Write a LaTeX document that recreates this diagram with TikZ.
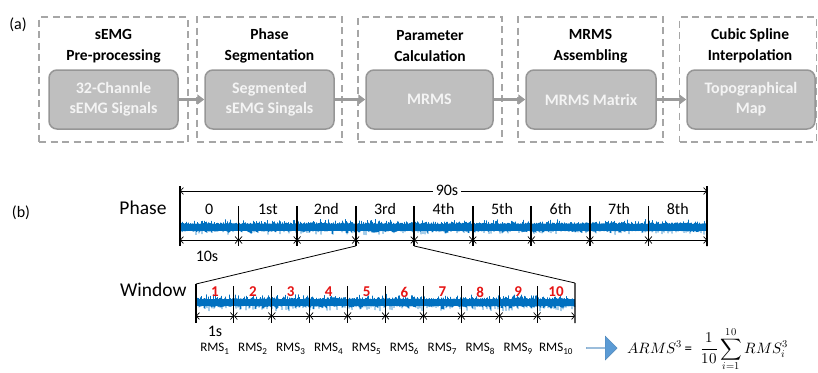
\documentclass[tikz,border=0pt]{standalone}
\usepackage{fontspec}
\usepackage{unicode-math}
\setmainfont{Carlito}
\setmathfont{Latin Modern Math}
\usetikzlibrary{arrows.meta,shapes.arrows}
\definecolor{dashgray}{RGB}{166,166,166}
\definecolor{boxfill}{RGB}{191,191,191}
\definecolor{boxedge}{RGB}{150,150,150}
\definecolor{arrgray}{RGB}{155,155,155}
\definecolor{sigblue}{RGB}{0,112,192}
\definecolor{blockblue}{RGB}{91,155,213}
\definecolor{numred}{RGB}{230,20,20}
\definecolor{boxtext}{RGB}{244,244,244}
\tikzset{
  stage/.style={draw=dashgray, dash pattern=on 7pt off 4.5pt, line width=1.3pt, inner sep=0pt},
  inbox/.style={draw=boxedge, fill=boxfill, rounded corners=8pt, line width=1.5pt, text=boxtext,
    font=\bfseries\fontsize{16}{20}\selectfont, align=center, inner sep=0pt,
    minimum height=59pt},
  ttl/.style={font=\bfseries\fontsize{15.5}{20.5}\selectfont, align=center},
  flow/.style={draw=arrgray, line width=2.6pt, -{Triangle[length=7pt,width=10pt]}},
  tick/.style={line width=1.8pt},
  dim/.style={line width=0.7pt, {Straight Barb[length=3pt,width=7pt]}-{Straight Barb[length=3pt,width=7pt]}},
  lab/.style={font=\fontsize{16}{18}\selectfont},
  big/.style={font=\fontsize{19.5}{22}\selectfont},
  rmsl/.style={font=\fontsize{13}{15}\selectfont},
  num/.style={font=\bfseries\fontsize{15}{17}\selectfont, text=numred},
  zoomline/.style={line width=0.8pt},
  sig/.style={sigblue, line width=0.5pt}
}
\begin{document}
\begin{tikzpicture}[x=1pt,y=-1pt]
\useasboundingbox (0,0) rectangle (818,372);
% ---------------- (a) ----------------
\node[lab] (la) at (18,25) {(a)};
\node[stage, minimum width=149pt, minimum height=125pt] (s1) at (113.5,79.5) {};
\node[stage, minimum width=145pt, minimum height=125pt] (s2) at (269.5,79.5) {};
\node[stage, minimum width=144pt, minimum height=125pt] (s3) at (430,79.5) {};
\node[stage, minimum width=145pt, minimum height=125pt] (s4) at (590.5,79.5) {};
\node[stage, minimum width=137pt, minimum height=125pt] (s5) at (748,79.5) {};
\node[ttl] (t1) at (113.5,46) {sEMG\\Pre-processing};
\node[ttl] (t2) at (269.5,46) {Phase\\Segmentation};
\node[ttl] (t3) at (430,46) {Parameter\\Calculation};
\node[ttl] (t4) at (590.5,46) {MRMS\\Assembling};
\node[ttl] (t5) at (750,46) {Cubic Spline\\Interpolation};
\node[inbox, minimum width=129pt] (i1) at (113.5,99.5) {32-Channle\\sEMG Signals};
\node[inbox, minimum width=129pt] (i2) at (269.5,99.5) {Segmented\\sEMG Singals};
\node[inbox, minimum width=127pt] (i3) at (429.5,99.5) {MRMS};
\node[inbox, minimum width=130pt] (i4) at (591,99.5) {MRMS Matrix};
\node[inbox, minimum width=128pt] (i5) at (751,99.5) {Topographical\\Map};
\draw[flow] (i1) -- (i2);
\draw[flow] (i2) -- (i3);
\draw[flow] (i3) -- (i4);
\draw[flow] (i4) -- (i5);
% ---------------- (b) ----------------
\node[lab] (lb) at (21,213) {(b)};
\node[big, anchor=east] (phase) at (170,208) {Phase};
\node[big, anchor=east] (window) at (190,290) {Window};
% phase signal
\pgfmathsetseed{11}
\fill[sigblue] (180,223.5) rectangle (707,230.5);
\draw[sig] plot[domain=0:1054, samples=1055]
  ({180+\x/2}, {227 + cos(180*mod(round(\x),2))*(3.2+5*rnd*rnd)});
% phase ticks
\foreach \i in {0,...,9}{
  \coordinate (pt\i) at ({180+58.5556*\i},206);
  \coordinate (pb\i) at ({180+58.5556*\i},246);
  \coordinate (pd\i) at ({180+58.5556*\i},240);
}
\coordinate (ptop0) at (180,186);
\coordinate (ptop9) at (707,186);
\draw[tick] (ptop0) -- (pb0);
\draw[tick] (ptop9) -- (pb9);
\foreach \i in {1,...,8}{ \draw[tick] (pt\i) -- (pb\i); }
\foreach \i [evaluate=\i as \j using int(\i+1)] in {0,...,8}{ \draw[dim] (pd\i) -- (pd\j); }
\foreach \t [count=\i from 0] in {0,1st,2nd,3rd,4th,5th,6th,7th,8th}{
  \node[lab] (pl\i) at ({180+58.5556*(\i+0.5)},209) {\t};
}
\coordinate (ninea) at (180,191);
\coordinate (nineb) at (707,191);
\draw[dim] (ninea) -- (nineb);
\node[lab, fill=white, inner sep=3pt] (ninety) at (447,190) {90s};
\node[lab] (ten) at (207,256) {10s};
% window signal
\fill[sigblue] (196,299) rectangle (575,306);
\draw[sig] plot[domain=0:758, samples=759]
  ({196+\x/2}, {302.5 + cos(180*mod(round(\x),2))*(3.2+6*rnd*rnd)});
\foreach \i in {0,...,10}{
  \coordinate (wt\i) at ({196+37.9*\i},286);
  \coordinate (wb\i) at ({196+37.9*\i},323);
  \coordinate (wd\i) at ({196+37.9*\i},316);
}
\coordinate (wtop0) at (196,284);
\coordinate (wtop10) at (575,283);
\draw[tick, line width=1.1pt] (wtop0) -- (wb0);
\draw[tick, line width=1.1pt] (wtop10) -- (wb10);
\foreach \i in {1,...,9}{ \draw[tick, line width=1.1pt] (wt\i) -- (wb\i); }
\foreach \i [evaluate=\i as \j using int(\i+1)] in {0,...,9}{ \draw[dim] (wd\i) -- (wd\j); }
\foreach \i in {1,...,10}{
  \node[num] (n\i) at ({196+37.9*(\i-0.5)},292) {\i};
  \node[rmsl] (r\i) at ({196+37.9*(\i-0.5)},349) {RMS\textsubscript{\i}};
}
\node[lab] (one) at (215,331) {1s};
% zoom lines
\draw[zoomline] (pb3) -- (wtop0);
\draw[zoomline] (pb4) -- (wtop10);
% block arrow and formula
\node[single arrow, fill=blockblue, draw=blockblue!85!black, line width=0.4pt,
  minimum height=31pt, minimum width=24pt, single arrow head extend=5pt,
  inner sep=0pt, anchor=west] (ba) at (586,348) {};
\node[anchor=west, font=\fontsize{15}{17}\selectfont, inner sep=0pt] (formula) at (627,349)
  {$ARMS^3\,\textrm{=}\;\; \displaystyle\frac{1}{10}\sum_{i=1}^{10}RMS_i^3$};
\end{tikzpicture}
\end{document}
